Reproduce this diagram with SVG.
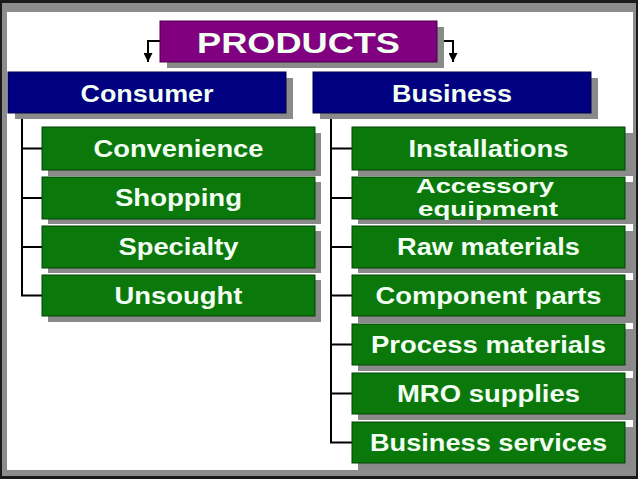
<svg xmlns="http://www.w3.org/2000/svg" width="638" height="479" viewBox="0 0 638 479">
<defs>
<style>
.t{font-family:"Liberation Sans",Arial,Helvetica,sans-serif;font-weight:bold;fill:#f2fff2;text-anchor:middle}
.sh{fill:#8a8a8a}
.g{fill:#0b780b;stroke:#044204;stroke-width:1}
.n{fill:#000080;stroke:#00004a;stroke-width:1}
.p{fill:#800080;stroke:#4a004a;stroke-width:1}
.c{fill:none;stroke:#000;stroke-width:2}
</style>
<marker id="ah" viewBox="0 0 10 10" refX="10" refY="5" markerWidth="4.5" markerHeight="4.5" orient="auto" markerUnits="strokeWidth">
<path d="M0,0 L10,5 L0,10 z" fill="#000"/>
</marker>
</defs>
<rect x="0" y="0" width="638" height="479" fill="#1a1a1a"/>
<rect x="2" y="3" width="634" height="473" fill="#8c8c8c"/>
<rect x="7" y="12" width="626" height="458" fill="#ffffff"/>

<g id="connectors">
<path class="c" d="M160,41 H148 V62" marker-end="url(#ah)"/>
<path class="c" d="M437,41 H453 V62" marker-end="url(#ah)"/>
<path class="c" d="M22,113 V296 M21,148.5 H42 M21,198 H42 M21,247 H42 M21,295.5 H42"/>
<path class="c" d="M331,113 V443.5 M330,148.5 H352 M330,198 H352 M330,247 H352 M330,295.5 H352 M330,344.5 H352 M330,393.5 H352 M330,442.5 H352"/>
</g>

<g id="products">
<rect class="sh" x="167" y="27" width="277" height="41"/>
<rect class="p" x="160" y="21" width="277" height="41"/>
<text class="t" x="298.5" y="53" font-size="29" textLength="203" lengthAdjust="spacingAndGlyphs">PRODUCTS</text>
</g>

<g id="consumer">
<rect class="sh" x="15" y="78" width="278" height="41"/>
<rect class="n" x="8" y="72" width="278" height="41"/>
<text class="t" x="147" y="102" font-size="23" textLength="133" lengthAdjust="spacingAndGlyphs">Consumer</text>
</g>

<g id="business">
<rect class="sh" x="320" y="78" width="278" height="41"/>
<rect class="n" x="313" y="72" width="278" height="41"/>
<text class="t" x="452" y="102" font-size="23" textLength="120" lengthAdjust="spacingAndGlyphs">Business</text>
</g>

<g id="convenience">
<rect class="sh" x="48" y="133" width="273" height="43"/>
<rect class="g" x="42" y="127" width="273" height="43"/>
<text class="t" x="178.5" y="157" font-size="23" textLength="170" lengthAdjust="spacingAndGlyphs">Convenience</text>
</g>
<g id="shopping">
<rect class="sh" x="48" y="182" width="273" height="42"/>
<rect class="g" x="42" y="177" width="273" height="42"/>
<text class="t" x="178.5" y="206" font-size="23" textLength="127" lengthAdjust="spacingAndGlyphs">Shopping</text>
</g>
<g id="specialty">
<rect class="sh" x="48" y="231" width="273" height="42"/>
<rect class="g" x="42" y="226" width="273" height="42"/>
<text class="t" x="178.5" y="255" font-size="23" textLength="120" lengthAdjust="spacingAndGlyphs">Specialty</text>
</g>
<g id="unsought">
<rect class="sh" x="48" y="280" width="273" height="42"/>
<rect class="g" x="42" y="275" width="273" height="41"/>
<text class="t" x="178.5" y="304" font-size="23" textLength="128" lengthAdjust="spacingAndGlyphs">Unsought</text>
</g>

<g id="installations">
<rect class="sh" x="358" y="133" width="275" height="43"/>
<rect class="g" x="352" y="127" width="273" height="43"/>
<text class="t" x="488.5" y="157" font-size="23" textLength="160" lengthAdjust="spacingAndGlyphs">Installations</text>
</g>
<g id="accessory">
<rect class="sh" x="358" y="182" width="275" height="42"/>
<rect class="g" x="352" y="177" width="273" height="42"/>
<text class="t" x="485" y="193" font-size="21" textLength="138" lengthAdjust="spacingAndGlyphs">Accessory</text>
<text class="t" x="488" y="216" font-size="21" textLength="140" lengthAdjust="spacingAndGlyphs">equipment</text>
</g>
<g id="raw">
<rect class="sh" x="358" y="231" width="275" height="42"/>
<rect class="g" x="352" y="226" width="273" height="42"/>
<text class="t" x="488.5" y="255" font-size="23" textLength="183" lengthAdjust="spacingAndGlyphs">Raw materials</text>
</g>
<g id="component">
<rect class="sh" x="358" y="280" width="275" height="43"/>
<rect class="g" x="352" y="275" width="273" height="41"/>
<text class="t" x="488.5" y="304" font-size="23" textLength="226" lengthAdjust="spacingAndGlyphs">Component parts</text>
</g>
<g id="process">
<rect class="sh" x="358" y="329" width="275" height="42"/>
<rect class="g" x="352" y="324" width="273" height="41"/>
<text class="t" x="488.5" y="353" font-size="23" textLength="235" lengthAdjust="spacingAndGlyphs">Process materials</text>
</g>
<g id="mro">
<rect class="sh" x="358" y="378" width="275" height="42"/>
<rect class="g" x="352" y="373" width="273" height="41"/>
<text class="t" x="488.5" y="402" font-size="23" textLength="183" lengthAdjust="spacingAndGlyphs">MRO supplies</text>
</g>
<g id="services">
<rect class="sh" x="358" y="427" width="275" height="43"/>
<rect class="g" x="352" y="422" width="273" height="41"/>
<text class="t" x="488.5" y="451" font-size="23" textLength="237" lengthAdjust="spacingAndGlyphs">Business services</text>
</g>
</svg>
